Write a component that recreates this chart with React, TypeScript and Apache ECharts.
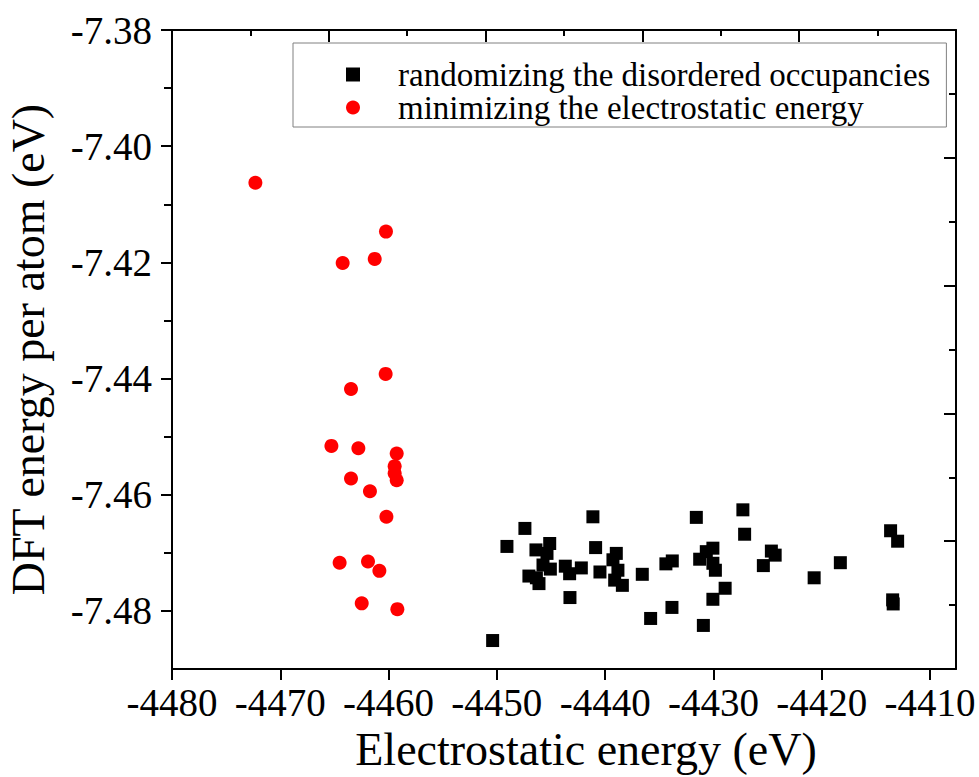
import React, { useEffect, useRef } from "react";
import * as echarts from "echarts";

const xTickValues = [-4480, -4470, -4460, -4450, -4440, -4430, -4420, -4410];
const yTickValues = [-7.48, -7.46, -7.44, -7.42, -7.40, -7.38];
const yMinorValues = [-7.47, -7.45, -7.43, -7.41, -7.39];

const seriesNames = ["randomizing the disordered occupancies", "minimizing the electrostatic energy"];

const randomX = [
  -4450.39, -4449.07, -4447.41, -4446.39, -4445.12, -4445.37, -4445.74, -4445.06, -4447.04, -4446.11,
  -4446.35, -4443.68, -4443.28, -4442.2, -4443.25, -4441.13, -4440.88, -4440.48, -4438.97, -4439.28,
  -4438.82, -4439.12, -4438.41, -4436.57, -4435.8, -4434.39, -4433.8, -4433.83, -4431.58, -4431.27,
  -4430.66, -4430.05, -4430.05, -4429.82, -4428.92, -4430.05, -4430.93, -4427.28, -4427.12, -4424.65,
  -4424.3, -4425.39, -4420.7, -4418.28, -4413.64, -4412.99, -4413.45, -4413.4,
];
const randomY = [
  -7.4851, -7.4689, -7.4658, -7.4695, -7.4684, -7.4701, -7.4721, -7.4728, -7.474, -7.4753,
  -7.4743, -7.4723, -7.4736, -7.4726, -7.4777, -7.4638, -7.4691, -7.4733, -7.4701, -7.4712,
  -7.473, -7.4747, -7.4756, -7.4737, -7.4813, -7.4719, -7.4714, -7.4794, -7.4639, -7.4711,
  -7.4698, -7.4692, -7.4718, -7.473, -7.4761, -7.478, -7.4825, -7.4626, -7.4668, -7.4697,
  -7.4704, -7.4722, -7.4743, -7.4717, -7.4662, -7.468, -7.4781, -7.4788,
];

const minimizedX = [
  -4472.3, -4460.24, -4464.24, -4461.28, -4460.27, -4463.47, -4465.28, -4462.79, -4459.25, -4459.44,
  -4459.44, -4459.25, -4463.47, -4461.72, -4460.2, -4464.52, -4461.9, -4460.85, -4462.48, -4459.19,
];
const minimizedY = [
  -7.4063, -7.4147, -7.4201, -7.4194, -7.4392, -7.4418, -7.4516, -7.452, -7.4529, -7.4551,
  -7.4563, -7.4575, -7.4572, -7.4594, -7.4638, -7.4717, -7.4715, -7.4731, -7.4787, -7.4797,
];

const FONT = "Liberation Serif";

export default function App() {
  const ref = useRef<HTMLDivElement>(null);

  useEffect(() => {
    if (!ref.current) return;
    const chart = echarts.init(ref.current, undefined, { renderer: "svg" });
    const axisLine = { show: true, lineStyle: { color: "#000", width: 2 } };
    const tickRich = { t: { fontFamily: FONT, fontSize: 39, color: "#000" } };
    const nameRich = { n: { fontFamily: FONT, fontSize: 46, color: "#000" } };
    const option: any = {
      animation: false,
      backgroundColor: "#fff",
      textStyle: { fontFamily: FONT },
      grid: { left: 172, top: 30, width: 784, height: 639, containLabel: false, outerBoundsMode: "none" },
      legend: {
        left: 293,
        top: 43,
        orient: "vertical",
        itemWidth: 14,
        itemHeight: 14,
        itemGap: 0,
        padding: [15, 16, 3, 53],
        borderColor: "#808080",
        borderWidth: 1,
        textStyle: { fontFamily: FONT, fontSize: 33, color: "#000", lineHeight: 33, padding: [0, 0, 0, 33] },
        data: [
          { name: seriesNames[0], icon: "rect", itemStyle: { color: "#000", opacity: 1 } },
          { name: seriesNames[1], icon: "circle", itemStyle: { color: "#ff0000", opacity: 1 } },
        ],
      },
      xAxis: [
        {
          type: "value",
          min: -4480,
          max: -4407.6,
          position: "bottom",
          axisLine,
          splitLine: { show: false },
          axisTick: { show: true, inside: false, length: 11, lineStyle: { color: "#000", width: 2 }, customValues: xTickValues },
          axisLabel: {
            show: true,
            customValues: xTickValues,
            fontFamily: FONT,
            fontSize: 39,
            color: "#000",
            margin: 14,
            rich: tickRich,
            formatter: (v: number) => "{t|" + String(v) + "}",
          },
          name: "{n|Electrostatic energy (eV)}",
          nameLocation: "middle",
          nameGap: 57,
          nameTextStyle: { fontFamily: FONT, fontSize: 46, color: "#000", padding: [0, 0, 0, 44], rich: nameRich },
        },
        {
          type: "value",
          min: 0,
          max: 5,
          interval: 1,
          position: "top",
          axisLine,
          splitLine: { show: false },
          axisTick: { show: true, inside: true, length: 12, lineStyle: { color: "#000", width: 2 } },
          minorTick: { show: true, splitNumber: 2, length: 6, lineStyle: { color: "#000", width: 2 } },
          axisLabel: { show: false },
        },
      ],
      yAxis: [
        {
          type: "value",
          min: -7.49,
          max: -7.38,
          position: "left",
          axisLine,
          splitLine: { show: false },
          axisTick: { show: true, inside: false, length: 11, lineStyle: { color: "#000", width: 2 }, customValues: yTickValues },
          axisLabel: {
            show: true,
            customValues: yTickValues,
            fontFamily: FONT,
            fontSize: 39,
            color: "#000",
            margin: 20,
            rich: tickRich,
            formatter: (v: number) => "{t|" + v.toFixed(2) + "}",
          },
          name: "{n|DFT energy per atom (eV)}",
          nameLocation: "middle",
          nameGap: 121,
          nameTextStyle: { fontFamily: FONT, fontSize: 46, color: "#000", rich: nameRich },
        },
        {
          type: "value",
          min: -7.49,
          max: -7.38,
          position: "left",
          axisLine: { show: false },
          splitLine: { show: false },
          axisTick: { show: true, inside: false, length: 8, lineStyle: { color: "#000", width: 2 }, customValues: yMinorValues },
          axisLabel: { show: false, customValues: yMinorValues },
        },
        {
          type: "value",
          min: 0,
          max: 5,
          interval: 1,
          position: "right",
          axisLine,
          splitLine: { show: false },
          axisTick: { show: true, inside: true, length: 12, lineStyle: { color: "#000", width: 2 } },
          minorTick: { show: true, splitNumber: 2, length: 7, lineStyle: { color: "#000", width: 2 } },
          axisLabel: { show: false },
        },
      ],
      series: [
        {
          name: seriesNames[0],
          type: "scatter",
          xAxisIndex: 0,
          yAxisIndex: 0,
          symbol: "rect",
          symbolSize: 13,
          itemStyle: { color: "#000", opacity: 1 },
          data: randomX.map((x, i) => [x, randomY[i]]),
        },
        {
          name: seriesNames[1],
          type: "scatter",
          xAxisIndex: 0,
          yAxisIndex: 0,
          symbol: "circle",
          symbolSize: 14,
          itemStyle: { color: "#ff0000", opacity: 1 },
          data: minimizedX.map((x, i) => [x, minimizedY[i]]),
        },
      ],
    };
    chart.setOption(option);
    return () => chart.dispose();
  }, []);

  return (
    <div
      ref={ref}
      style={{ position: "fixed", left: 0, top: 0, width: 979, height: 777, background: "#fff" }}
    />
  );
}
